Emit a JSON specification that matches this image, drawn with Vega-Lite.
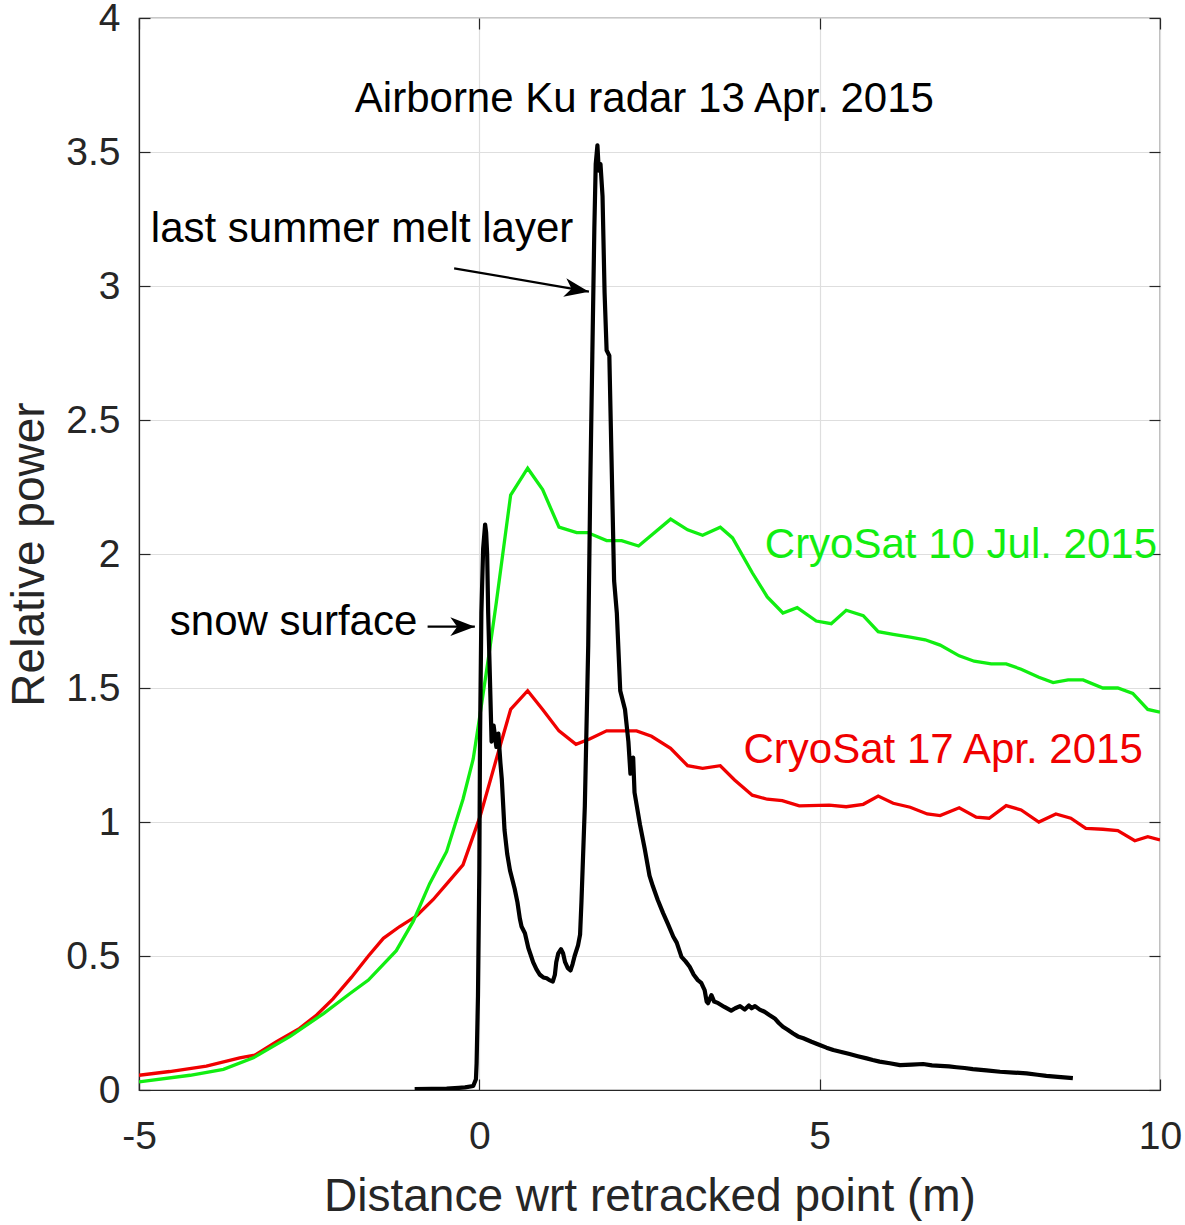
{
  "$schema": "https://vega.github.io/schema/vega-lite/v6.json",
  "width": 1021,
  "height": 1072,
  "autosize": {"type": "none"},
  "padding": {"left": 139, "top": 18, "right": 25, "bottom": 135},
  "background": "white",
  "config": {
    "view": {"stroke": "#262626", "strokeWidth": 1.2},
    "font": "Liberation Sans",
    "axis": {
      "labelFont": "Liberation Sans",
      "titleFont": "Liberation Sans",
      "labelColor": "#262626",
      "titleColor": "#262626",
      "titleFontWeight": "normal",
      "domainColor": "#262626",
      "tickColor": "#262626",
      "gridColor": "#dedede",
      "gridWidth": 1.2,
      "domainWidth": 1.2,
      "tickWidth": 1.2,
      "labelFlush": false,
      "labelBound": false,
      "labelOverlap": false
    }
  },
  "datasets": {
    "lines": [
      {"series": "apr", "x": -5.0, "y": 0.055},
      {"series": "apr", "x": -4.55, "y": 0.069},
      {"series": "apr", "x": -4.01, "y": 0.089},
      {"series": "apr", "x": -3.52, "y": 0.12},
      {"series": "apr", "x": -3.3, "y": 0.13},
      {"series": "apr", "x": -2.98, "y": 0.18},
      {"series": "apr", "x": -2.64, "y": 0.23},
      {"series": "apr", "x": -2.39, "y": 0.28},
      {"series": "apr", "x": -2.15, "y": 0.34},
      {"series": "apr", "x": -1.88, "y": 0.42},
      {"series": "apr", "x": -1.63, "y": 0.5},
      {"series": "apr", "x": -1.41, "y": 0.566},
      {"series": "apr", "x": -1.17, "y": 0.61},
      {"series": "apr", "x": -0.92, "y": 0.65},
      {"series": "apr", "x": -0.68, "y": 0.71},
      {"series": "apr", "x": -0.46, "y": 0.775},
      {"series": "apr", "x": -0.24, "y": 0.84},
      {"series": "apr", "x": 0.01, "y": 1.02},
      {"series": "apr", "x": 0.25, "y": 1.235},
      {"series": "apr", "x": 0.46, "y": 1.42},
      {"series": "apr", "x": 0.71, "y": 1.49},
      {"series": "apr", "x": 0.93, "y": 1.42},
      {"series": "apr", "x": 1.17, "y": 1.34},
      {"series": "apr", "x": 1.42, "y": 1.29},
      {"series": "apr", "x": 1.62, "y": 1.31},
      {"series": "apr", "x": 1.87, "y": 1.34},
      {"series": "apr", "x": 2.31, "y": 1.34},
      {"series": "apr", "x": 2.53, "y": 1.32},
      {"series": "apr", "x": 2.81, "y": 1.275},
      {"series": "apr", "x": 3.06, "y": 1.21},
      {"series": "apr", "x": 3.28, "y": 1.2},
      {"series": "apr", "x": 3.54, "y": 1.21},
      {"series": "apr", "x": 3.75, "y": 1.157},
      {"series": "apr", "x": 4.01, "y": 1.1},
      {"series": "apr", "x": 4.23, "y": 1.085},
      {"series": "apr", "x": 4.45, "y": 1.08},
      {"series": "apr", "x": 4.7, "y": 1.06},
      {"series": "apr", "x": 5.14, "y": 1.063},
      {"series": "apr", "x": 5.39, "y": 1.057},
      {"series": "apr", "x": 5.64, "y": 1.066},
      {"series": "apr", "x": 5.86, "y": 1.097},
      {"series": "apr", "x": 6.08, "y": 1.07},
      {"series": "apr", "x": 6.33, "y": 1.055},
      {"series": "apr", "x": 6.58, "y": 1.03},
      {"series": "apr", "x": 6.77, "y": 1.024},
      {"series": "apr", "x": 7.05, "y": 1.053},
      {"series": "apr", "x": 7.3, "y": 1.018},
      {"series": "apr", "x": 7.49, "y": 1.014},
      {"series": "apr", "x": 7.74, "y": 1.061},
      {"series": "apr", "x": 7.96, "y": 1.045},
      {"series": "apr", "x": 8.22, "y": 1.0},
      {"series": "apr", "x": 8.47, "y": 1.03},
      {"series": "apr", "x": 8.69, "y": 1.014},
      {"series": "apr", "x": 8.91, "y": 0.976},
      {"series": "apr", "x": 9.16, "y": 0.973},
      {"series": "apr", "x": 9.38, "y": 0.968},
      {"series": "apr", "x": 9.63, "y": 0.93},
      {"series": "apr", "x": 9.82, "y": 0.945},
      {"series": "apr", "x": 10.0, "y": 0.933},

      {"series": "jul", "x": -5.0, "y": 0.03},
      {"series": "jul", "x": -4.25, "y": 0.055},
      {"series": "jul", "x": -3.76, "y": 0.077},
      {"series": "jul", "x": -3.32, "y": 0.12},
      {"series": "jul", "x": -2.78, "y": 0.2},
      {"series": "jul", "x": -2.29, "y": 0.285},
      {"series": "jul", "x": -1.9, "y": 0.36},
      {"series": "jul", "x": -1.63, "y": 0.41},
      {"series": "jul", "x": -1.22, "y": 0.52},
      {"series": "jul", "x": -0.97, "y": 0.63},
      {"series": "jul", "x": -0.73, "y": 0.77},
      {"series": "jul", "x": -0.48, "y": 0.89},
      {"series": "jul", "x": -0.24, "y": 1.085},
      {"series": "jul", "x": -0.09, "y": 1.235},
      {"series": "jul", "x": 0.01, "y": 1.4},
      {"series": "jul", "x": 0.15, "y": 1.64},
      {"series": "jul", "x": 0.25, "y": 1.82},
      {"series": "jul", "x": 0.46, "y": 2.22},
      {"series": "jul", "x": 0.71, "y": 2.32},
      {"series": "jul", "x": 0.93, "y": 2.24},
      {"series": "jul", "x": 1.17, "y": 2.1},
      {"series": "jul", "x": 1.43, "y": 2.08},
      {"series": "jul", "x": 1.59, "y": 2.08},
      {"series": "jul", "x": 1.87, "y": 2.05},
      {"series": "jul", "x": 2.09, "y": 2.05},
      {"series": "jul", "x": 2.34, "y": 2.03},
      {"series": "jul", "x": 2.81, "y": 2.13},
      {"series": "jul", "x": 3.06, "y": 2.09},
      {"series": "jul", "x": 3.28, "y": 2.07},
      {"series": "jul", "x": 3.54, "y": 2.1},
      {"series": "jul", "x": 3.72, "y": 2.06},
      {"series": "jul", "x": 4.01, "y": 1.93},
      {"series": "jul", "x": 4.23, "y": 1.84},
      {"series": "jul", "x": 4.46, "y": 1.78},
      {"series": "jul", "x": 4.67, "y": 1.8},
      {"series": "jul", "x": 4.95, "y": 1.75},
      {"series": "jul", "x": 5.17, "y": 1.74},
      {"series": "jul", "x": 5.39, "y": 1.79},
      {"series": "jul", "x": 5.64, "y": 1.77},
      {"series": "jul", "x": 5.86, "y": 1.71},
      {"series": "jul", "x": 6.08, "y": 1.7},
      {"series": "jul", "x": 6.33, "y": 1.69},
      {"series": "jul", "x": 6.55, "y": 1.68},
      {"series": "jul", "x": 6.77, "y": 1.66},
      {"series": "jul", "x": 7.05, "y": 1.62},
      {"series": "jul", "x": 7.27, "y": 1.6},
      {"series": "jul", "x": 7.52, "y": 1.59},
      {"series": "jul", "x": 7.74, "y": 1.59},
      {"series": "jul", "x": 7.96, "y": 1.57},
      {"series": "jul", "x": 8.22, "y": 1.54},
      {"series": "jul", "x": 8.43, "y": 1.52},
      {"series": "jul", "x": 8.65, "y": 1.53},
      {"series": "jul", "x": 8.87, "y": 1.53},
      {"series": "jul", "x": 9.16, "y": 1.5},
      {"series": "jul", "x": 9.38, "y": 1.5},
      {"series": "jul", "x": 9.6, "y": 1.48},
      {"series": "jul", "x": 9.82, "y": 1.42},
      {"series": "jul", "x": 10.0, "y": 1.41},

      {"series": "airborne", "x": -0.95, "y": 0.003},
      {"series": "airborne", "x": -0.7, "y": 0.004},
      {"series": "airborne", "x": -0.48, "y": 0.005},
      {"series": "airborne", "x": -0.3, "y": 0.008},
      {"series": "airborne", "x": -0.21, "y": 0.01},
      {"series": "airborne", "x": -0.09, "y": 0.015},
      {"series": "airborne", "x": -0.05, "y": 0.04},
      {"series": "airborne", "x": -0.04, "y": 0.1},
      {"series": "airborne", "x": -0.02, "y": 0.35},
      {"series": "airborne", "x": 0.0, "y": 0.82},
      {"series": "airborne", "x": 0.01, "y": 1.3},
      {"series": "airborne", "x": 0.03, "y": 1.78},
      {"series": "airborne", "x": 0.056, "y": 2.02},
      {"series": "airborne", "x": 0.085, "y": 2.11},
      {"series": "airborne", "x": 0.1, "y": 2.08},
      {"series": "airborne", "x": 0.115, "y": 2.0},
      {"series": "airborne", "x": 0.13, "y": 1.78},
      {"series": "airborne", "x": 0.15, "y": 1.59},
      {"series": "airborne", "x": 0.18, "y": 1.3},
      {"series": "airborne", "x": 0.21, "y": 1.36},
      {"series": "airborne", "x": 0.25, "y": 1.28},
      {"series": "airborne", "x": 0.28, "y": 1.33},
      {"series": "airborne", "x": 0.31, "y": 1.22},
      {"series": "airborne", "x": 0.33, "y": 1.16},
      {"series": "airborne", "x": 0.37, "y": 0.97},
      {"series": "airborne", "x": 0.41, "y": 0.88},
      {"series": "airborne", "x": 0.45, "y": 0.82},
      {"series": "airborne", "x": 0.52, "y": 0.75},
      {"series": "airborne", "x": 0.56, "y": 0.7},
      {"series": "airborne", "x": 0.595, "y": 0.64},
      {"series": "airborne", "x": 0.62, "y": 0.61},
      {"series": "airborne", "x": 0.67, "y": 0.585},
      {"series": "airborne", "x": 0.72, "y": 0.53},
      {"series": "airborne", "x": 0.76, "y": 0.5},
      {"series": "airborne", "x": 0.79, "y": 0.477},
      {"series": "airborne", "x": 0.84, "y": 0.45},
      {"series": "airborne", "x": 0.89, "y": 0.43},
      {"series": "airborne", "x": 0.94, "y": 0.42},
      {"series": "airborne", "x": 0.99, "y": 0.417},
      {"series": "airborne", "x": 1.03, "y": 0.41},
      {"series": "airborne", "x": 1.08, "y": 0.405},
      {"series": "airborne", "x": 1.11, "y": 0.43},
      {"series": "airborne", "x": 1.13, "y": 0.477},
      {"series": "airborne", "x": 1.16, "y": 0.51},
      {"series": "airborne", "x": 1.2, "y": 0.525},
      {"series": "airborne", "x": 1.23, "y": 0.51},
      {"series": "airborne", "x": 1.26, "y": 0.477},
      {"series": "airborne", "x": 1.3, "y": 0.455},
      {"series": "airborne", "x": 1.34, "y": 0.446},
      {"series": "airborne", "x": 1.37, "y": 0.47},
      {"series": "airborne", "x": 1.4, "y": 0.5},
      {"series": "airborne", "x": 1.45, "y": 0.54},
      {"series": "airborne", "x": 1.48, "y": 0.58},
      {"series": "airborne", "x": 1.5, "y": 0.7},
      {"series": "airborne", "x": 1.55, "y": 1.06},
      {"series": "airborne", "x": 1.6, "y": 1.66},
      {"series": "airborne", "x": 1.63, "y": 2.26},
      {"series": "airborne", "x": 1.66, "y": 2.74},
      {"series": "airborne", "x": 1.69, "y": 3.22},
      {"series": "airborne", "x": 1.71, "y": 3.455},
      {"series": "airborne", "x": 1.735, "y": 3.525},
      {"series": "airborne", "x": 1.755, "y": 3.43},
      {"series": "airborne", "x": 1.78, "y": 3.455},
      {"series": "airborne", "x": 1.81, "y": 3.335},
      {"series": "airborne", "x": 1.84, "y": 2.976},
      {"series": "airborne", "x": 1.87, "y": 2.76},
      {"series": "airborne", "x": 1.91, "y": 2.74},
      {"series": "airborne", "x": 1.94, "y": 2.38},
      {"series": "airborne", "x": 1.98, "y": 1.9},
      {"series": "airborne", "x": 2.02, "y": 1.78},
      {"series": "airborne", "x": 2.07, "y": 1.49},
      {"series": "airborne", "x": 2.14, "y": 1.42},
      {"series": "airborne", "x": 2.19, "y": 1.3},
      {"series": "airborne", "x": 2.22, "y": 1.18},
      {"series": "airborne", "x": 2.26, "y": 1.24},
      {"series": "airborne", "x": 2.28, "y": 1.11},
      {"series": "airborne", "x": 2.36, "y": 0.99},
      {"series": "airborne", "x": 2.43, "y": 0.9},
      {"series": "airborne", "x": 2.5, "y": 0.8},
      {"series": "airborne", "x": 2.55, "y": 0.76},
      {"series": "airborne", "x": 2.62, "y": 0.71},
      {"series": "airborne", "x": 2.7, "y": 0.66},
      {"series": "airborne", "x": 2.77, "y": 0.62},
      {"series": "airborne", "x": 2.85, "y": 0.572},
      {"series": "airborne", "x": 2.9, "y": 0.55},
      {"series": "airborne", "x": 2.97, "y": 0.497},
      {"series": "airborne", "x": 3.03, "y": 0.48},
      {"series": "airborne", "x": 3.09, "y": 0.46},
      {"series": "airborne", "x": 3.15, "y": 0.43},
      {"series": "airborne", "x": 3.21, "y": 0.41},
      {"series": "airborne", "x": 3.26, "y": 0.4},
      {"series": "airborne", "x": 3.31, "y": 0.373},
      {"series": "airborne", "x": 3.34, "y": 0.33},
      {"series": "airborne", "x": 3.36, "y": 0.324},
      {"series": "airborne", "x": 3.41, "y": 0.354},
      {"series": "airborne", "x": 3.45, "y": 0.33},
      {"series": "airborne", "x": 3.51, "y": 0.324},
      {"series": "airborne", "x": 3.6, "y": 0.31},
      {"series": "airborne", "x": 3.7, "y": 0.296},
      {"series": "airborne", "x": 3.76, "y": 0.305},
      {"series": "airborne", "x": 3.83, "y": 0.313},
      {"series": "airborne", "x": 3.9, "y": 0.3},
      {"series": "airborne", "x": 3.96, "y": 0.315},
      {"series": "airborne", "x": 4.0, "y": 0.305},
      {"series": "airborne", "x": 4.05, "y": 0.313},
      {"series": "airborne", "x": 4.12, "y": 0.3},
      {"series": "airborne", "x": 4.19, "y": 0.292},
      {"series": "airborne", "x": 4.26, "y": 0.28},
      {"series": "airborne", "x": 4.34, "y": 0.267},
      {"series": "airborne", "x": 4.4, "y": 0.25},
      {"series": "airborne", "x": 4.46, "y": 0.236},
      {"series": "airborne", "x": 4.53, "y": 0.225},
      {"series": "airborne", "x": 4.61, "y": 0.211},
      {"series": "airborne", "x": 4.68, "y": 0.2},
      {"series": "airborne", "x": 4.76, "y": 0.193},
      {"series": "airborne", "x": 4.88, "y": 0.18},
      {"series": "airborne", "x": 5.0, "y": 0.168},
      {"series": "airborne", "x": 5.1, "y": 0.158},
      {"series": "airborne", "x": 5.2, "y": 0.149},
      {"series": "airborne", "x": 5.32, "y": 0.142},
      {"series": "airborne", "x": 5.44, "y": 0.134},
      {"series": "airborne", "x": 5.56, "y": 0.126},
      {"series": "airborne", "x": 5.69, "y": 0.118},
      {"series": "airborne", "x": 5.78, "y": 0.112},
      {"series": "airborne", "x": 5.88, "y": 0.106},
      {"series": "airborne", "x": 6.03, "y": 0.1},
      {"series": "airborne", "x": 6.18, "y": 0.093},
      {"series": "airborne", "x": 6.35, "y": 0.095},
      {"series": "airborne", "x": 6.52, "y": 0.097},
      {"series": "airborne", "x": 6.65, "y": 0.092},
      {"series": "airborne", "x": 6.77, "y": 0.09},
      {"series": "airborne", "x": 6.9, "y": 0.088},
      {"series": "airborne", "x": 7.01, "y": 0.085},
      {"series": "airborne", "x": 7.13, "y": 0.082},
      {"series": "airborne", "x": 7.25, "y": 0.078},
      {"series": "airborne", "x": 7.45, "y": 0.073},
      {"series": "airborne", "x": 7.65, "y": 0.068},
      {"series": "airborne", "x": 7.85, "y": 0.065},
      {"series": "airborne", "x": 8.04, "y": 0.062},
      {"series": "airborne", "x": 8.2, "y": 0.057},
      {"series": "airborne", "x": 8.33, "y": 0.053},
      {"series": "airborne", "x": 8.5, "y": 0.049},
      {"series": "airborne", "x": 8.72, "y": 0.044}
    ],
    "labels": [
      {"series": "airborne", "x": -1.829, "y": 3.65, "text": "Airborne Ku radar 13 Apr. 2015"},
      {"series": "airborne", "x": -4.826, "y": 3.166, "text": "last summer melt layer"},
      {"series": "airborne", "x": -4.547, "y": 1.696, "text": "snow surface"},
      {"series": "jul", "x": 4.194, "y": 1.984, "text": "CryoSat 10 Jul. 2015"},
      {"series": "apr", "x": 3.881, "y": 1.221, "text": "CryoSat 17 Apr. 2015"}
    ],
    "arrows": [
      {"name": "melt", "x": -0.37, "y": 3.066, "x2": 1.61, "y2": 2.979},
      {"name": "snow", "x": -0.76, "y": 1.729, "x2": -0.066, "y2": 1.729}
    ]
  },
  "resolve": {"axis": {"x": "independent", "y": "independent"}},
  "layer": [
    {
      "data": {"name": "lines"},
      "transform": [{"filter": "datum.series !== 'airborne'"}],
      "mark": {"type": "line", "clip": true, "strokeWidth": 3.3},
      "encoding": {
        "x": {
          "field": "x", "type": "quantitative",
          "scale": {"domain": [-5, 10], "nice": false, "zero": false},
          "axis": {
            "orient": "bottom",
            "values": [-5, 0, 5, 10],
            "labelExpr": "replace(datum.label, '−', '-')",
            "grid": true,
            "tickSize": -11,
            "labelFontSize": 39,
            "labelBaseline": "alphabetic",
            "labelPadding": 69,
            "title": "Distance wrt retracked point (m)",
            "titleFontSize": 46,
            "titleBaseline": "alphabetic",
            "titleY": 120
          }
        },
        "y": {
          "field": "y", "type": "quantitative",
          "scale": {"domain": [0, 4], "nice": false},
          "axis": {
            "orient": "left",
            "values": [0, 0.5, 1, 1.5, 2, 2.5, 3, 3.5, 4],
            "format": "~g",
            "grid": true,
            "tickSize": -11,
            "labelFontSize": 39,
            "labelPadding": 30,
            "title": "Relative power",
            "titleFontSize": 46,
            "titleAngle": -90,
            "titleAlign": "center",
            "titleBaseline": "alphabetic",
            "titleX": -96,
            "titleY": 536
          }
        },
        "color": {
          "field": "series", "type": "nominal",
          "scale": {"domain": ["apr", "jul", "airborne"], "range": ["#f00000", "#11ee11", "#000000"]},
          "legend": null
        }
      }
    },
    {
      "data": {"name": "lines"},
      "transform": [{"filter": "datum.series === 'airborne'"}],
      "mark": {"type": "line", "clip": true, "strokeWidth": 4.2, "strokeJoin": "round"},
      "encoding": {
        "x": {"field": "x", "type": "quantitative", "axis": null},
        "y": {"field": "y", "type": "quantitative", "axis": null},
        "color": {"field": "series", "type": "nominal", "legend": null}
      }
    },
    {
      "data": {"name": "labels"},
      "mark": {"type": "text", "align": "left", "baseline": "alphabetic", "font": "Liberation Sans", "fontSize": 42},
      "encoding": {
        "x": {
          "field": "x", "type": "quantitative",
          "axis": {"orient": "top", "values": [-5, 0, 5, 10], "labels": false, "grid": false, "domain": false, "tickSize": -11, "title": null}
        },
        "y": {
          "field": "y", "type": "quantitative",
          "axis": {"orient": "right", "values": [0, 0.5, 1, 1.5, 2, 2.5, 3, 3.5, 4], "labels": false, "grid": false, "domain": false, "tickSize": -11, "title": null}
        },
        "text": {"field": "text"},
        "color": {"field": "series", "type": "nominal", "legend": null}
      }
    },
    {
      "data": {"name": "arrows"},
      "mark": {"type": "rule", "strokeWidth": 2.2, "color": "black"},
      "encoding": {
        "x": {"field": "x", "type": "quantitative", "axis": null},
        "y": {"field": "y", "type": "quantitative", "axis": null},
        "x2": {"field": "x2"},
        "y2": {"field": "y2"}
      }
    },
    {
      "data": {"name": "arrows"},
      "transform": [{"filter": "datum.name === 'melt'"}],
      "mark": {"type": "point", "shape": "M0,0L-1,-0.38L-0.72,0L-1,0.38Z", "filled": true, "size": 2400, "angle": 9.7, "color": "black", "opacity": 1},
      "encoding": {
        "x": {"field": "x2", "type": "quantitative", "axis": null},
        "y": {"field": "y2", "type": "quantitative", "axis": null}
      }
    },
    {
      "data": {"name": "arrows"},
      "transform": [{"filter": "datum.name === 'snow'"}],
      "mark": {"type": "point", "shape": "M0,0L-1,-0.38L-0.72,0L-1,0.38Z", "filled": true, "size": 2400, "angle": 0, "color": "black", "opacity": 1},
      "encoding": {
        "x": {"field": "x2", "type": "quantitative", "axis": null},
        "y": {"field": "y2", "type": "quantitative", "axis": null}
      }
    }
  ]
}
